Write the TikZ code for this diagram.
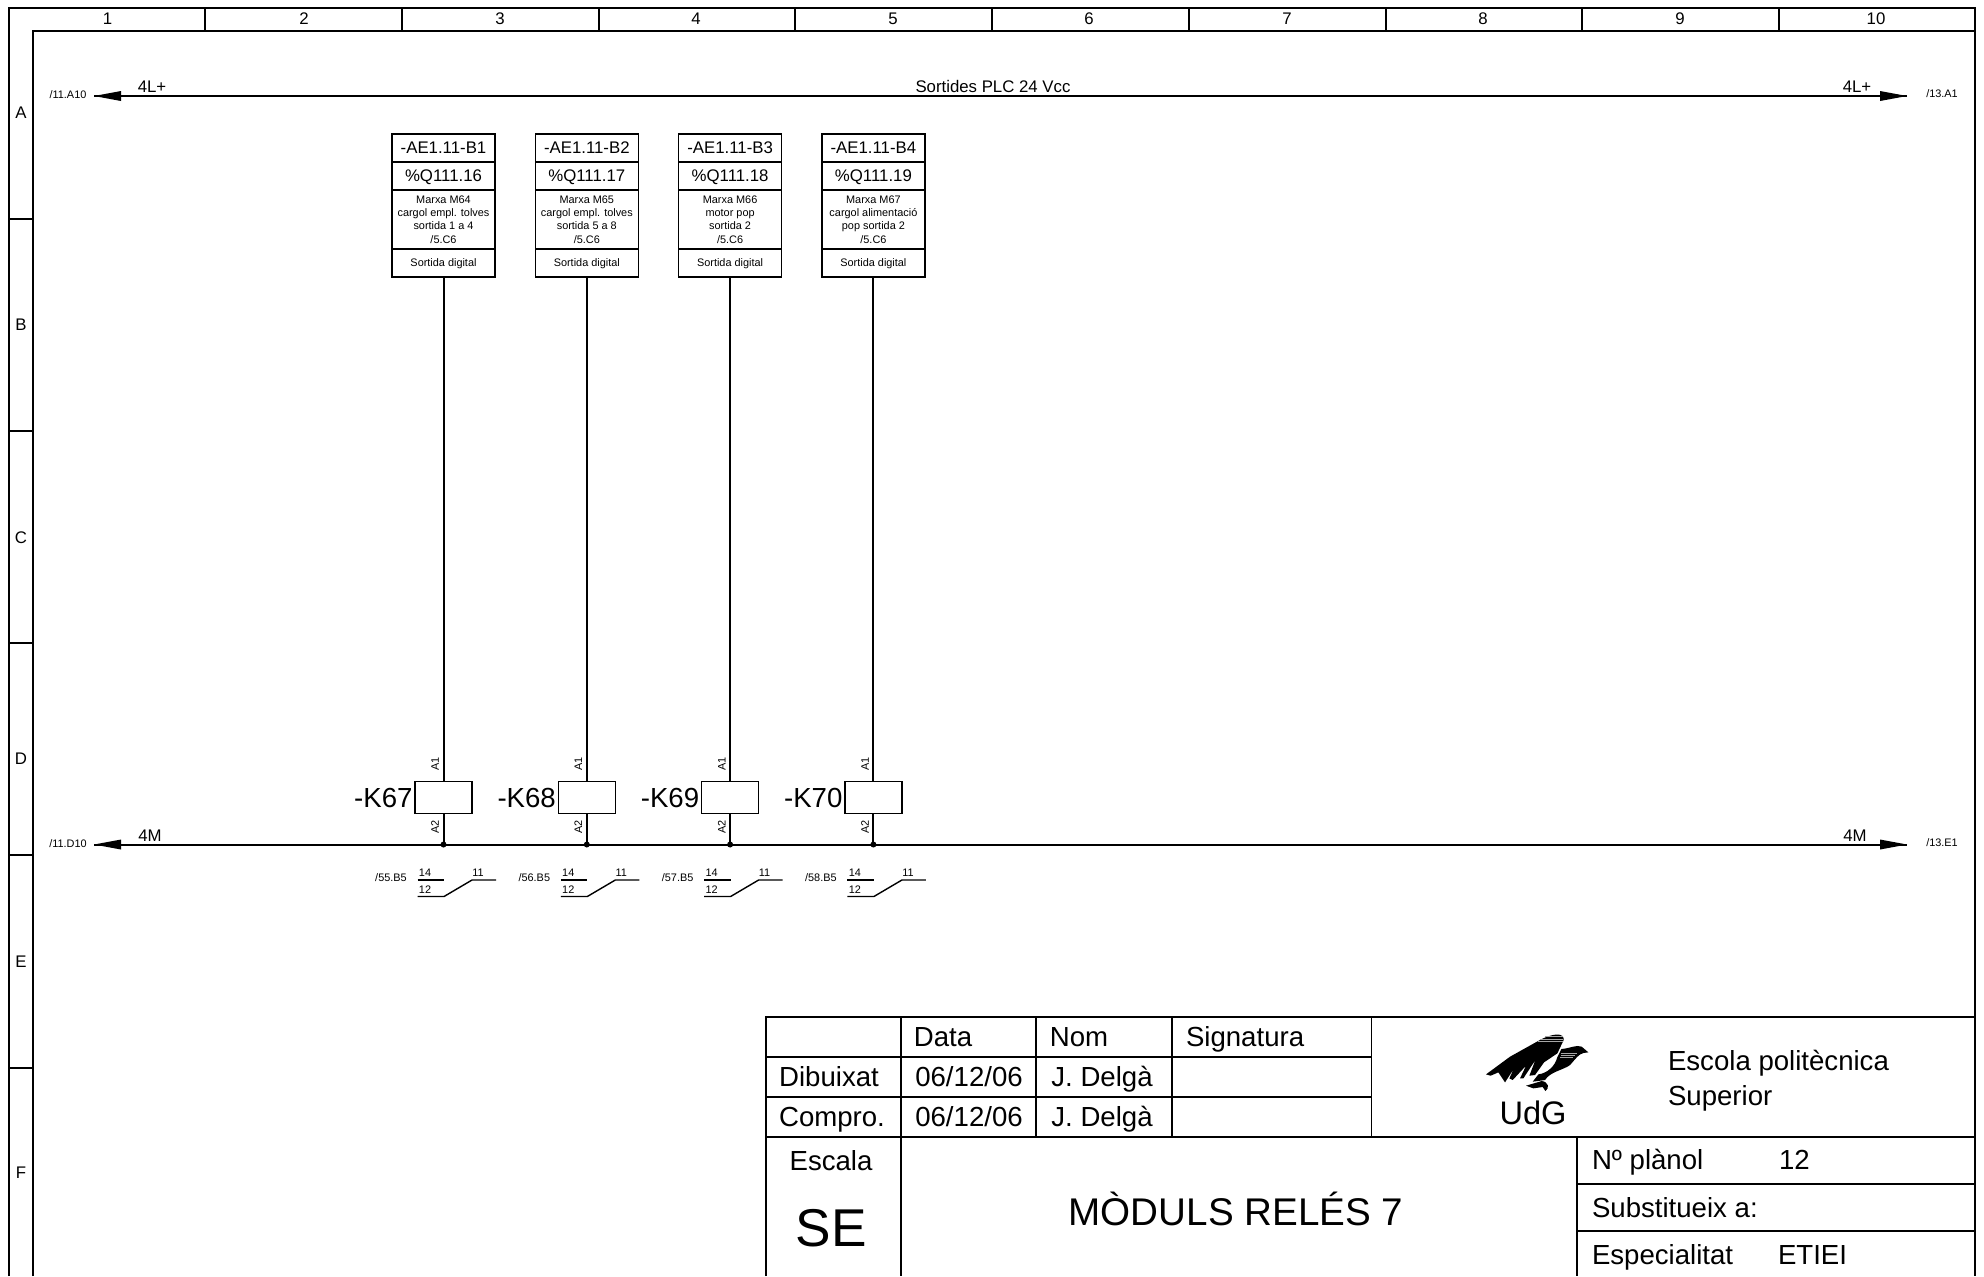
\documentclass[tikz,border=0pt]{standalone}
\usepackage{fontspec}
\setmainfont{Liberation Sans}
\tikzset{
 x=0.5pt,y=-0.5pt,
 thick line/.style={line width=1pt},
 thin line/.style={line width=0.75pt},
 lbl/.style={inner sep=0pt,outer sep=0pt,text height=5.9pt,text depth=0pt,font=\fontsize{8.4}{9}\selectfont},
 tiny/.style={inner sep=0pt,outer sep=0pt,text height=3.9pt,text depth=0pt,font=\fontsize{5.45}{6.6}\selectfont},
 tinyblock/.style={inner sep=0pt,outer sep=0pt,font=\fontsize{5.45}{6.65}\selectfont,align=center},
 big/.style={inner sep=0pt,outer sep=0pt,text height=9.9pt,text depth=0pt,font=\fontsize{13.8}{16}\selectfont},
 cellbox/.style={draw,thin line,minimum width=51.5pt,inner sep=0pt,outer sep=0pt,anchor=north west},
 relay/.style={draw,thin line,minimum width=28.5pt,minimum height=16pt,inner sep=0pt,outer sep=0pt},
 bustip/.style={fill=black,draw=none},
}
\begin{document}
\begin{tikzpicture}
\useasboundingbox (0,0) rectangle (1984,1276);
% frame
\coordinate (fTL) at (8.5,7.5); \coordinate (fTR) at (1975,7.5);
\coordinate (iTL) at (33,30.5); \coordinate (iTR) at (1975,30.5);
\draw[thick line] (8.5,1276) -- (fTL) -- (fTR) -- (1975,1276);
\draw[thick line] (33,1276) -- (iTL) -- (iTR);
\foreach \x in {205,402,598.5,795,992,1189,1385.5,1582,1778.5} \draw[thick line] (\x,7.5) -- (\x,30.5);
\foreach \y in {219,431,643,855,1068} \draw[thick line] (8.5,\y) -- (33,\y);
\foreach \t/\x in {1/107.5,2/304,3/500,4/696,5/893,6/1089,7/1287,8/1483,9/1680,10/1876}
  \node[lbl] (col\t) at (\x,18.5) {\t};
\foreach \t/\y in {A/113,B/325,C/538,D/759,E/962,F/1173}
  \node[lbl] (row\t) at (21,\y) {\t};
% buses
\coordinate (tl) at (94,96); \coordinate (tr) at (1907,96);
\coordinate (bl) at (94,844.5); \coordinate (br) at (1907,844.5);
\draw[thick line] (tl) -- (tr);
\draw[thick line] (bl) -- (br);
\foreach \c/\s in {tl/1,bl/1,tr/-1,br/-1}
  \fill[bustip] (\c) -- ++(\s*27,-5) -- ++(0,10) -- cycle;
\node[tiny] (tlref) at (68,95) {/11.A10};
\node[tiny] (trref) at (1942,94) {/13.A1};
\node[tiny] (blref) at (68,844) {/11.D10};
\node[tiny] (brref) at (1942,843) {/13.E1};
\node[lbl] (tlname) at (152,86.5) {4L+};
\node[lbl] (trname) at (1857,86.5) {4L+};
\node[lbl] (blname) at (150,835.5) {4M};
\node[lbl] (brname) at (1855,835.5) {4M};
\node[lbl] (bustitle) at (993,87) {Sortides PLC 24 Vcc};
% modules
\newcommand{\modul}[7]{%
 \node[cellbox,minimum height=14pt,lbl] (a#2) at (#1,134) {-AE1.11-B#2};
 \node[cellbox,minimum height=14pt,lbl] (b#2) at (#1,162) {\%Q111.#3};
 \node[cellbox,minimum height=29.5pt] (c#2) at (#1,190) {};
 \node[tinyblock] (ct#2) at (#1+51.5,219.5) {Marxa M#7\\#4\\#5\\/5.C6};
 \node[cellbox,minimum height=14pt,tiny] (d#2) at (#1,249) {Sortida digital};
 \node[relay] (k#2) at (#1+51.5,797.5) {};
 \node[big,anchor=east] (kn#2) at (#1+20.5,797.5) {-K#6};
 \coordinate (w#2) at (#1+51.5,844.5);
 \draw[thick line] (d#2.south) -- (k#2.north);
 \draw[thick line] (k#2.south) -- (w#2);
 \fill (w#2) circle (1.5pt);
 \node[tiny,rotate=90] (aa#2) at (#1+43,764) {A1};
 \node[tiny,rotate=90] (ab#2) at (#1+43,827) {A2};
}
\modul{392}{1}{16}{cargol empl. tolves}{sortida 1 a 4}{67}{64}
\modul{535.3}{2}{17}{cargol empl. tolves}{sortida 5 a 8}{68}{65}
\modul{678.6}{3}{18}{motor pop}{sortida 2}{69}{66}
\modul{821.9}{4}{19}{cargol alimentació}{pop sortida 2}{70}{67}
% contacts
\newcommand{\contacte}[3]{%
 \coordinate (p#1a) at (#2+25.5,880); \coordinate (p#1b) at (#2+52,880);
 \coordinate (p#1c) at (#2+25.5,896.5); \coordinate (p#1d) at (#2+52,896.5);
 \coordinate (p#1e) at (#2+80,880); \coordinate (p#1f) at (#2+104,880);
 \draw[line width=0.7pt] (p#1a) -- (p#1b);
 \draw[line width=0.7pt] (p#1c) -- (p#1d) -- (p#1e) -- (p#1f);
 \node[tiny] (ref#1) at (#2-1,877.5) {/#3.B5};
 \node[tiny] (n14#1) at (#2+33,873) {14};
 \node[tiny] (n12#1) at (#2+33,889.5) {12};
 \node[tiny] (n11#1) at (#2+86,873) {11};
}
\contacte{1}{392}{55}
\contacte{2}{535.3}{56}
\contacte{3}{678.6}{57}
\contacte{4}{821.9}{58}
% title block
\draw[thick line] (765.5,1276) -- (765.5,1017) -- (1975,1017);
\draw[thick line] (765.5,1056.5) -- (1371.5,1056.5);
\draw[thin line] (765.5,1097) -- (1371.5,1097);
\draw[thick line] (765.5,1136.5) -- (1975,1136.5);
\draw[thick line] (901,1017) -- (901,1276);
\draw[thin line] (1036,1017) -- (1036,1136.5);
\draw[thin line] (1172,1017) -- (1172,1136.5);
\draw[thin line] (1371.5,1017) -- (1371.5,1136.5);
\draw[thick line] (1577,1136.5) -- (1577,1276);
\draw[thin line] (1577,1184) -- (1975,1184);
\draw[thin line] (1577,1231) -- (1975,1231);
\node[big] (hData) at (943,1036.5) {Data};
\node[big] (hNom) at (1079,1036.5) {Nom};
\node[big,anchor=west] (hSig) at (1186,1036.5) {Signatura};
\node[big] (dib) at (829,1077) {Dibuixat};
\node[big] (cmp) at (832,1117) {Compro.};
\node[big] (d1) at (969,1077) {06/12/06};
\node[big] (d2) at (969,1117) {06/12/06};
\node[big] (n1) at (1102,1077) {J. Delgà};
\node[big] (n2) at (1102,1117) {J. Delgà};
\node[big] (esc) at (831,1161) {Escala};
\node[inner sep=0pt,text height=19pt,text depth=0pt,font=\fontsize{26.6}{28}\selectfont] (se) at (831,1227.5) {SE};
\node[inner sep=0pt,text height=13.8pt,text depth=0pt,font=\fontsize{19.3}{22}\selectfont] (tit) at (1236,1212) {MÒDULS RELÉS 7};
\node[big,anchor=west] (pl) at (1592,1160) {Nº plànol};
\node[big,anchor=west] (pln) at (1779,1160) {12};
\node[big,anchor=west] (sub) at (1592,1208) {Substitueix a:};
\node[big,anchor=west] (esp) at (1592,1255) {Especialitat};
\node[big,anchor=west] (etiei) at (1778,1255) {ETIEI};
\node[big,anchor=west] (eps) at (1668,1061) {Escola politècnica};
\node[big,anchor=west] (sup) at (1668,1095.5) {Superior};
\node[inner sep=0pt,text height=11.7pt,text depth=0pt,font=\fontsize{16.3}{18}\selectfont] (udg) at (1533,1113) {UdG};
% logo
\begin{scope}[shift={(1470,1025)},x=0.1667pt,y=-0.1667pt]
\fill (48,148) -- (120,95) -- (215,42) .. controls (250,25) and (283,22) .. (281,45)
  -- (262,85) -- (222,112) -- (195,150) -- (178,152) -- (196,105) -- (160,160) -- (150,160)
  -- (168,122) -- (128,165) -- (118,160) -- (132,130) -- (105,172) -- (85,142) -- (62,152) -- cycle;
\fill (262,96) -- (274,72) .. controls (300,70) and (320,58) .. (335,65) -- (355,82)
  -- (340,84) .. controls (325,88) and (318,100) .. (300,120)
  .. controls (280,135) and (240,140) .. (225,165) -- (188,170) -- (205,148)
  .. controls (230,145) and (255,125) .. (262,96) -- cycle;
\fill (168,182) -- (215,168) .. controls (235,170) and (240,190) .. (226,198) -- (218,186) -- (190,190) -- cycle;
\foreach \yy/\xa/\xb in {35/225/278,42/214/280,49/205/278}
  \draw[gray!70,line width=0.25pt] (\xa,\yy) -- (\xb,\yy);
\foreach \yy/\xa/\xb in {84/274/320,91/272/316,98/270/308}
  \draw[gray!70,line width=0.25pt] (\xa,\yy) -- (\xb,\yy);
\end{scope}
\end{tikzpicture}
\end{document}
